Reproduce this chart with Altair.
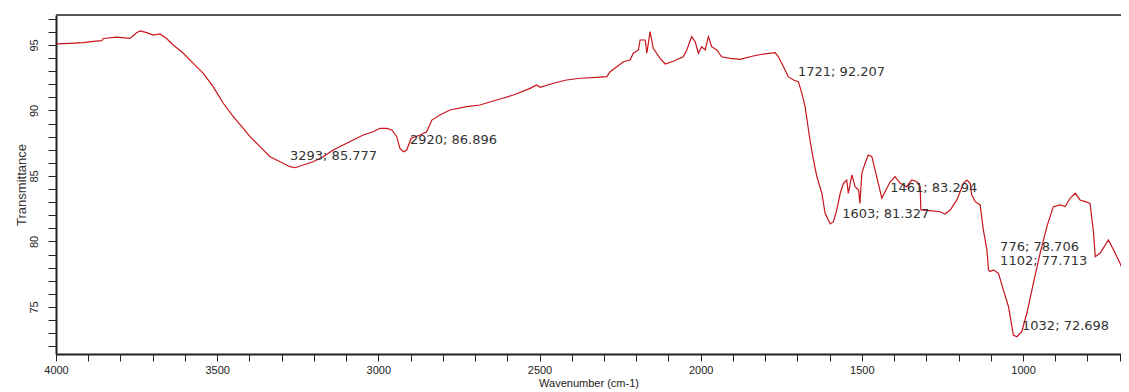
import altair as alt
import pandas as pd

# ---- spectrum ----
wavenumber = [3998, 3957, 3915, 3884, 3858, 3853, 3812, 3770, 3750, 3739, 3719, 3698, 3677, 3657,
              3636, 3605, 3574, 3543, 3512, 3481, 3450, 3425, 3398, 3367, 3336, 3305, 3274, 3258,
              3233, 3202, 3171, 3140, 3109, 3078, 3047, 3016, 2995, 2974, 2958, 2943, 2933, 2922,
              2912, 2898, 2870, 2850, 2834, 2809, 2778, 2726, 2685, 2633, 2581, 2529, 2509, 2498,
              2457, 2416, 2374, 2322, 2291, 2281, 2260, 2240, 2219, 2209, 2193, 2188, 2172, 2167,
              2157, 2147, 2126, 2110, 2085, 2054, 2043, 2028, 2017, 2007, 1997, 1986, 1976, 1966,
              1950, 1935, 1909, 1878, 1837, 1806, 1769, 1759, 1743, 1728, 1712, 1697, 1686, 1676,
              1661, 1650, 1640, 1624, 1614, 1598, 1588, 1578, 1567, 1557, 1547, 1542, 1531, 1521,
              1510, 1506, 1500, 1490, 1480, 1469, 1459, 1449, 1438, 1428, 1412, 1397, 1381, 1361,
              1345, 1329, 1319, 1317, 1288, 1257, 1242, 1226, 1205, 1185, 1174, 1164, 1159, 1148,
              1133, 1123, 1112, 1107, 1102, 1092, 1076, 1061, 1045, 1030, 1019, 1004, 988, 968,
              947, 926, 906, 885, 869, 854, 838, 823, 807, 792, 781, 776, 761, 735, 719, 699, 678, 671]
transmittance = [95.08, 95.13, 95.18, 95.28, 95.33, 95.50, 95.60, 95.50, 95.94, 96.07, 95.94, 95.76, 95.84, 95.50,
                 95.00, 94.37, 93.60, 92.84, 91.80, 90.55, 89.53, 88.80, 88.00, 87.24, 86.47, 86.09, 85.71, 85.63,
                 85.84, 86.09, 86.47, 86.98, 87.37, 87.75, 88.13, 88.38, 88.64, 88.64, 88.51, 88.00, 87.11, 86.85,
                 86.98, 87.88, 88.13, 88.38, 89.27, 89.66, 90.04, 90.29, 90.42, 90.80, 91.18, 91.69, 91.95, 91.77,
                 92.08, 92.33, 92.46, 92.53, 92.58, 92.96, 93.34, 93.72, 93.85, 94.37, 94.62, 95.38, 95.38, 94.37,
                 96.02, 94.75, 93.98, 93.55, 93.76, 94.10, 94.62, 95.64, 95.25, 94.37, 94.87, 94.62, 95.64, 94.87,
                 94.62, 94.10, 93.98, 93.90, 94.16, 94.31, 94.41, 94.10, 93.34, 92.58, 92.33, 92.20, 91.31, 90.29,
                 87.75, 86.22, 85.00, 83.68, 82.15, 81.34, 81.51, 82.40, 83.68, 84.44, 84.69, 83.68, 85.08, 84.18,
                 83.93, 82.90, 85.20, 85.97, 86.60, 86.47, 85.46, 84.44, 83.30, 83.80, 84.56, 84.95, 84.44, 84.18,
                 84.69, 84.56, 84.18, 82.40, 82.35, 82.27, 82.10, 82.40, 83.17, 84.44, 84.69, 84.44, 83.55, 83.04,
                 82.79, 80.88, 79.35, 77.82, 77.71, 77.82, 77.57, 76.30, 75.02, 72.86, 72.73, 73.11, 74.52, 76.81,
                 79.10, 81.13, 82.66, 82.79, 82.66, 83.30, 83.68, 83.17, 83.04, 82.90, 80.63, 78.84, 79.10, 80.12,
                 79.35, 78.33, 77.06, 76.70]

# ---- peak annotations ----
ann_text = ["3293; 85.777", "2920; 86.896", "1721; 92.207", "1461; 83.294",
            "1603; 81.327", "776; 78.706", "1102; 77.713", "1032; 72.698"]
ann_x = [3274, 2902, 1698, 1412, 1561, 1071, 1071, 1003]
ann_y = [86.53, 87.75, 92.94, 84.08, 82.10, 79.58, 78.51, 73.55]

spec = pd.DataFrame({"wn": wavenumber, "T": transmittance})
ann = pd.DataFrame({"label": ann_text, "x": ann_x, "y": ann_y})

W, H = 1065, 339
x_scale = alt.Scale(domain=[4000, 696], nice=False, zero=False)
y_scale = alt.Scale(domain=[71.41, 97.29], nice=False, zero=False)

x_axis = alt.Axis(
    title="Wavenumber (cm-1)", values=list(range(700, 4001, 100)), tickCount=200,
    labelExpr="datum.value % 500 == 0 ? datum.label : ''", format="d",
    labelOverlap=False,
    grid=False, tickSize=7, tickColor="#222", domainColor="#222", domainWidth=2,
    labelFont="Liberation Sans", labelFontSize=11, labelColor="#222", labelPadding=3,
    labelFlush=False, titleFont="Liberation Sans", titleFontSize=11,
    titleFontWeight="normal", titleColor="#222", titlePadding=2,
)
y_axis = alt.Axis(
    title="Transmittance", values=list(range(72, 98)), tickCount=200,
    labelExpr="datum.value % 5 == 0 ? datum.label : ''", format="d",
    labelOverlap=False,
    grid=False, tickSize=8, tickColor="#222", domainColor="#222", domainWidth=2,
    labelFont="Liberation Sans", labelFontSize=11, labelColor="#222",
    labelAngle=270, labelAlign="center", labelBaseline="bottom", labelPadding=9,
    titleFont="Liberation Sans", titleFontSize=13, titleFontWeight="normal",
    titleColor="#333", titlePadding=0,
)

line = alt.Chart(spec).mark_line(color="#c8141c", strokeWidth=1.2, clip=True).encode(
    x=alt.X("wn:Q", scale=x_scale, axis=x_axis),
    y=alt.Y("T:Q", scale=y_scale, axis=y_axis),
    order="wn:Q",
)

labels = alt.Chart(ann).mark_text(
    align="left", baseline="middle", font="DejaVu Sans", fontSize=13, color="#333"
).encode(
    x=alt.X("x:Q", scale=x_scale),
    y=alt.Y("y:Q", scale=y_scale),
    text="label:N",
)

top = alt.Chart(ann).mark_rule(color="#555", strokeWidth=2).encode(
    x=alt.value(0), x2=alt.value(W), y=alt.value(0)
)

chart = alt.layer(line, labels, top).properties(
    width=W, height=H,
    autosize=alt.AutoSizeParams(type="none"),
    padding={"left": 48, "top": 7, "right": 0, "bottom": 38},
).configure_view(stroke=None).configure(background="white")

chart.save("out.html", embed_options={"renderer": "svg", "actions": False})
